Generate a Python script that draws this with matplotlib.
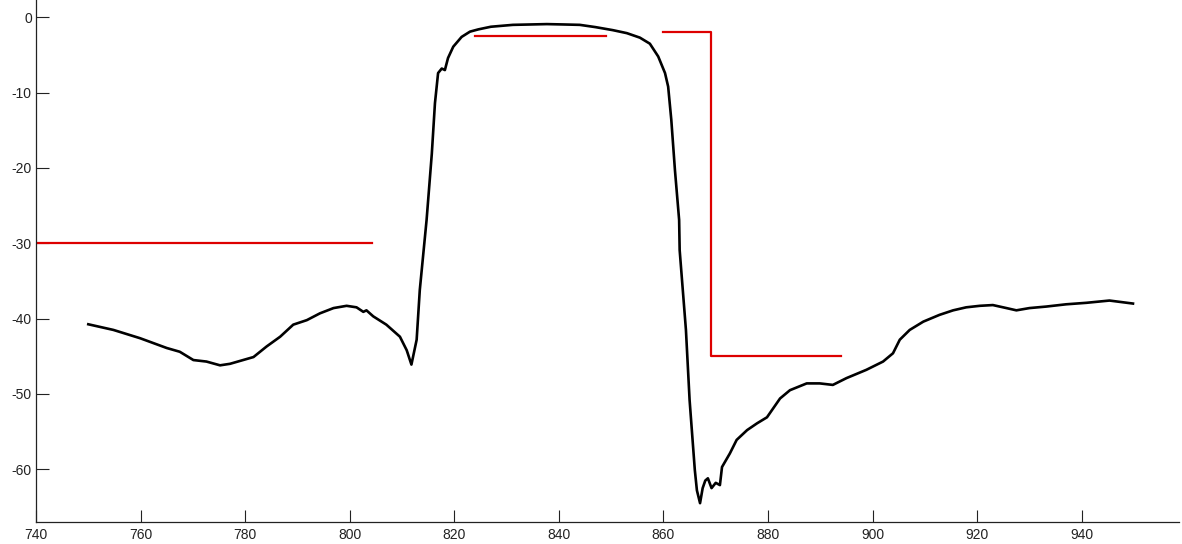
import matplotlib
matplotlib.use("Agg")
import matplotlib.pyplot as plt

wl = [750.0, 754.8, 759.9, 765.0, 767.5, 770.1, 772.6, 775.2, 777.1, 779.6,
      781.6, 784.1, 786.7, 789.2, 791.8, 794.3, 796.9, 799.4, 801.3, 802.6,
      803.2, 804.5, 807.0, 809.6, 810.9, 811.8, 812.8, 813.4, 814.7, 815.7,
      816.3, 816.9, 817.6, 818.2, 818.8, 819.8, 821.4, 823.0, 824.6, 827.0,
      831.2, 834.5, 837.7, 841.0, 844.0, 847.0, 850.3, 853.0, 855.5, 857.4,
      859.0, 860.3, 860.9, 861.5, 862.2, 863.0, 863.1, 864.3, 865.0, 866.0,
      866.4, 867.0, 867.5, 868.0, 868.5, 869.2, 870.0, 870.8, 871.2, 872.7,
      874.0, 876.0, 877.9, 879.8, 881.7, 882.3, 884.2, 887.4, 889.9, 892.4,
      895.0, 898.8, 902.0, 903.9, 905.2, 907.1, 909.7, 912.8, 915.4, 917.9,
      920.5, 923.0, 925.6, 927.5, 930.0, 933.2, 937.0, 940.9, 945.3, 949.8]
level = [-40.75, -41.5, -42.6, -43.9, -44.4, -45.5, -45.7, -46.2, -46.0, -45.5,
         -45.1, -43.7, -42.4, -40.8, -40.2, -39.3, -38.6, -38.3, -38.5, -39.1,
         -38.9, -39.7, -40.8, -42.4, -44.2, -46.1, -42.8, -36.2, -26.9, -18.1,
         -11.4, -7.4, -6.8, -7.0, -5.4, -3.9, -2.6, -1.9, -1.6, -1.25,
         -1.0, -0.95, -0.9, -0.95, -1.0, -1.3, -1.7, -2.1, -2.7, -3.5,
         -5.2, -7.4, -9.2, -13.6, -20.3, -26.9, -30.9, -41.5, -50.8, -60.1,
         -62.8, -64.5, -62.5, -61.5, -61.2, -62.5, -61.8, -62.1, -59.7, -57.9,
         -56.1, -54.8, -53.9, -53.1, -51.2, -50.6, -49.5, -48.6, -48.6, -48.8,
         -47.9, -46.8, -45.7, -44.6, -42.8, -41.5, -40.4, -39.5, -38.9, -38.5,
         -38.3, -38.2, -38.6, -38.9, -38.6, -38.4, -38.1, -37.9, -37.6, -38.0]

# red limit lines (mask)
lim_low_x = [740, 804.2]
lim_low_y = [-30, -30]
lim_top_x = [824, 849]
lim_top_y = [-2.5, -2.5]
step_x = [860, 869, 869, 894]
step_y = [-2, -2, -45, -45]

xticks = [740, 760, 780, 800, 820, 840, 860, 880, 900, 920, 940]
yticks = [0, -10, -20, -30, -40, -50, -60]

plt.rcParams['font.family'] = ['Liberation Sans', 'DejaVu Sans']
plt.rcParams['axes.unicode_minus'] = False

fig = plt.figure(figsize=(11.82, 5.44), dpi=100)
ax = fig.add_axes([36 / 1182, 22 / 544, 1143 / 1182, 522 / 544])

ax.plot(wl, level, color='black', linewidth=1.9, zorder=3)
ax.plot(lim_low_x, lim_low_y, color='#dd0000', linewidth=1.6)
ax.plot(lim_top_x, lim_top_y, color='#dd0000', linewidth=1.6)
ax.plot(step_x, step_y, color='#dd0000', linewidth=1.6)

ax.set_xlim(740, 958.6)
ax.set_ylim(-67.0, 2.3)
ax.set_xticks(xticks)
ax.set_yticks(yticks)
ax.tick_params(direction='in', length=9, width=0.8, labelsize=10, colors='#222222')
ax.tick_params(axis='x', pad=4)
ax.tick_params(axis='y', pad=3)

for s in ['top', 'right']:
    ax.spines[s].set_visible(False)
for s in ['left', 'bottom']:
    ax.spines[s].set_linewidth(0.9)
    ax.spines[s].set_color('#222222')

fig.savefig('out.png', dpi=100)
